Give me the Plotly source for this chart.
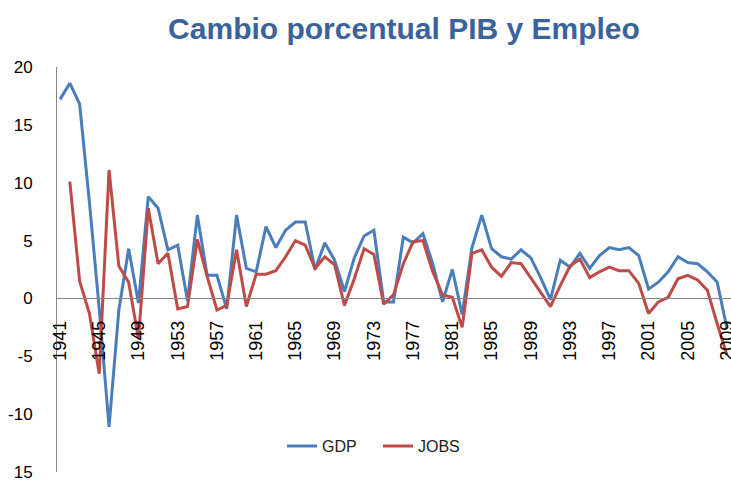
import plotly.graph_objects as go

years = list(range(1941, 2010))

gdp = [17.2, 18.6, 16.8, 8.3, -0.9, -11.1, -1.0, 4.3, -0.4, 8.8,
       7.8, 4.2, 4.6, -0.2, 7.2, 2.0, 2.0, -0.9, 7.2, 2.6,
       2.3, 6.2, 4.4, 5.9, 6.6, 6.6, 2.5, 4.8, 3.3, 0.6,
       3.5, 5.4, 5.9, -0.3, -0.3, 5.3, 4.8, 5.6, 3.0, -0.3,
       2.5, -1.4, 4.4, 7.2, 4.3, 3.6, 3.4, 4.2, 3.5, 1.8,
       -0.1, 3.3, 2.7, 3.9, 2.6, 3.7, 4.4, 4.2, 4.4, 3.7,
       0.8, 1.4, 2.3, 3.6, 3.1, 3.0, 2.3, 1.4, -2.6]

jobs = [None, 10.1, 1.5, -1.3, -6.5, 11.1, 2.8, 1.4, -3.5, 7.8,
        3.0, 3.9, -0.9, -0.7, 5.1, 1.9, -1.0, -0.6, 4.2, -0.7,
        2.1, 2.1, 2.4, 3.6, 5.0, 4.6, 2.6, 3.6, 2.9, -0.6,
        1.7, 4.3, 3.8, -0.5, 0.3, 3.0, 4.9, 5.0, 2.3, 0.3,
        0.1, -2.5, 3.9, 4.2, 2.7, 1.9, 3.1, 3.0, 1.8, 0.5,
        -0.7, 1.1, 2.8, 3.4, 1.8, 2.3, 2.7, 2.4, 2.4, 1.3,
        -1.3, -0.3, 0.1, 1.7, 2.0, 1.6, 0.7, -2.2, -4.9]

x_ticks = list(range(1941, 2010, 4))
y_ticks = [-15, -10, -5, 0, 5, 10, 15, 20]
y_ticktext = ["15", "-10", "-5", "0", "5", "10", "15", "20"]

BLUE = "#4A7EBB"
RED = "#BE4B48"
AXIS = "#868686"

fig = go.Figure()
fig.add_trace(go.Scatter(x=years, y=gdp, mode="lines", name="GDP",
                         line=dict(color=BLUE, width=3), legend="legend"))
fig.add_trace(go.Scatter(x=years, y=jobs, mode="lines", name="JOBS",
                         line=dict(color=RED, width=3), legend="legend2"))

W, H = 731, 480
L, R, T, B = 57, 0, 67, 8
px_per_year = 9.809
x0 = 1941 - 3 / px_per_year
x1 = 1941 + (W - L - R - 3) / px_per_year

FONT = "Liberation Sans, Arial, sans-serif"

fig.update_layout(
    width=W, height=H,
    margin=dict(l=L, r=R, t=T, b=B, autoexpand=False),
    paper_bgcolor="white", plot_bgcolor="white",
    title=dict(text="<b>Cambio porcentual PIB y Empleo</b>",
               font=dict(family=FONT, size=30, color="#3A6399"),
               x=404 / W, xanchor="center", xref="container",
               y=1 - 28.5 / H, yanchor="middle", yref="container"),
    xaxis=dict(range=[x0, x1], showgrid=False, zeroline=False,
               showline=True, linecolor=AXIS, linewidth=1,
               anchor="free", position=15 / 35,
               tickvals=x_ticks, ticktext=[str(v) for v in x_ticks],
               tickangle=-90, ticks="", ticklabelstandoff=14,
               ticklabeloverflow="allow",
               tickfont=dict(family=FONT, size=18, color="#000000")),
    yaxis=dict(range=[-15, 20], showgrid=False, zeroline=False,
               showline=True, linecolor=AXIS, linewidth=1,
               tickvals=y_ticks, ticktext=y_ticktext, ticks="",
               ticklabelstandoff=20, ticklabeloverflow="allow",
               tickfont=dict(family=FONT, size=17, color="#000000")),
    legend=dict(x=(282 - L) / (W - L - R), xanchor="left",
                y=(471.8 - 446) / 404.8, yanchor="middle",
                font=dict(family=FONT, size=16, color="#222222"),
                bgcolor="rgba(0,0,0,0)", borderwidth=0),
    legend2=dict(x=(378 - L) / (W - L - R), xanchor="left",
                 y=(471.8 - 446) / 404.8, yanchor="middle",
                 font=dict(family=FONT, size=16, color="#222222"),
                 bgcolor="rgba(0,0,0,0)", borderwidth=0),
    showlegend=True,
)

fig.write_html("out.html", config={"displayModeBar": False},
               post_script="document.body.style.margin='0';document.body.style.padding='0';")
